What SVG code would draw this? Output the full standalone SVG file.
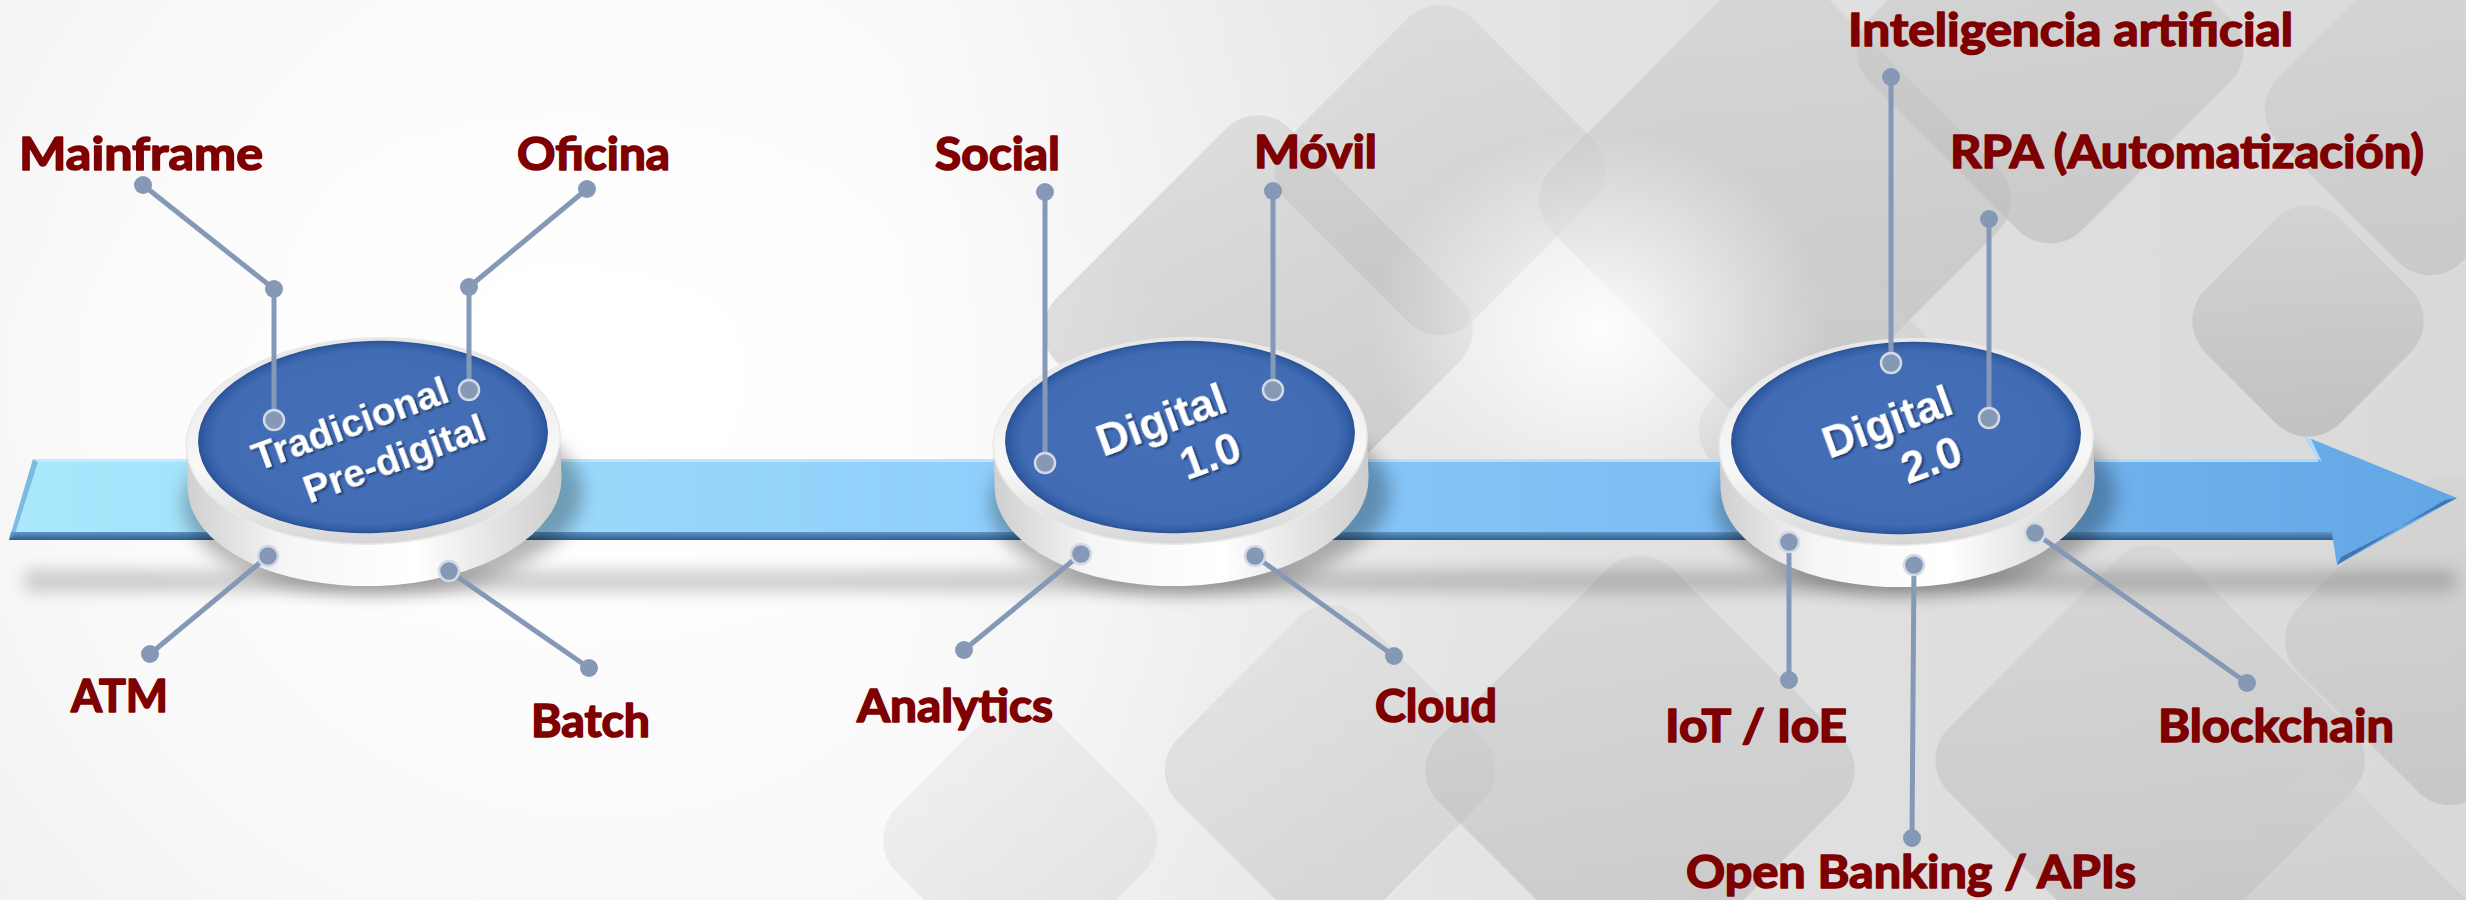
<svg xmlns="http://www.w3.org/2000/svg" width="2466" height="900" viewBox="0 0 2466 900">
<style>
.lbl{font-family:Lato,"Liberation Sans",sans-serif;font-weight:700;font-size:46px;fill:#7e0000;stroke:#7e0000;stroke-width:1.6px;stroke-linejoin:round}
.dt{font-family:"Liberation Sans",Arial,sans-serif;font-weight:700;fill:#ffffff;text-anchor:middle}
.cn{stroke:#8599b6;stroke-width:5;fill:none;stroke-linecap:round}
.dot{fill:#8599b6}
.ring{fill:#8599b6;stroke:#d3dae6;stroke-width:2.5}
.dm{rx:45px}
</style>
<defs>
<radialGradient id="bgGlow" cx="600" cy="380" r="900" gradientUnits="userSpaceOnUse">
<stop offset="0" stop-color="#ffffff"/><stop offset="0.6" stop-color="#f9f9f9"/><stop offset="1" stop-color="#eeeeee"/>
</radialGradient>
<linearGradient id="rightGray" x1="900" y1="0" x2="2466" y2="0" gradientUnits="userSpaceOnUse">
<stop offset="0" stop-color="#c8c8c8" stop-opacity="0"/><stop offset="0.5" stop-color="#c8c8c8" stop-opacity="0.35"/><stop offset="1" stop-color="#c0c0c0" stop-opacity="0.45"/>
</linearGradient>
<radialGradient id="wGlow"><stop offset="0" stop-color="#ffffff" stop-opacity="0.95"/><stop offset="1" stop-color="#ffffff" stop-opacity="0"/></radialGradient>
<linearGradient id="dmG" x1="0" y1="0" x2="1" y2="1">
<stop offset="0" stop-color="#d2d2d2"/><stop offset="1" stop-color="#b4b4b4"/>
</linearGradient>
<linearGradient id="arrowG" x1="0" y1="0" x2="2466" y2="0" gradientUnits="userSpaceOnUse">
<stop offset="0" stop-color="#aae8fc"/><stop offset="0.45" stop-color="#8ccbfa"/><stop offset="0.75" stop-color="#7ab9f2"/><stop offset="1" stop-color="#62a6e4"/>
</linearGradient>
<linearGradient id="bevelG" x1="0" y1="0" x2="0" y2="1">
<stop offset="0" stop-color="#5f95c6"/><stop offset="1" stop-color="#2f5f90"/>
</linearGradient>
<radialGradient id="faceG" cx="0.5" cy="0.5" r="0.5">
<stop offset="0" stop-color="#4570b8"/><stop offset="0.9" stop-color="#416bb3"/><stop offset="0.96" stop-color="#3560a8"/><stop offset="1" stop-color="#2a5195"/>
</radialGradient>
<linearGradient id="rimG" x1="0" y1="0" x2="0" y2="1">
<stop offset="0" stop-color="#e6e6e6"/><stop offset="0.6" stop-color="#f8f8f8"/><stop offset="1" stop-color="#d6d6d6"/>
</linearGradient>
<linearGradient id="sideG" x1="0" y1="0" x2="1" y2="0">
<stop offset="0" stop-color="#d0d0d0"/><stop offset="0.25" stop-color="#f6f6f6"/><stop offset="0.6" stop-color="#ffffff"/><stop offset="1" stop-color="#cdcdcd"/>
</linearGradient>
<filter id="blur" x="-20%" y="-50%" width="140%" height="200%"><feGaussianBlur stdDeviation="9"/></filter>
<filter id="blurS" x="-10%" y="-200%" width="120%" height="500%"><feGaussianBlur stdDeviation="8"/></filter>
<filter id="tsh" x="-20%" y="-40%" width="140%" height="180%"><feDropShadow dx="1.5" dy="2" stdDeviation="1.2" flood-color="#10204a" flood-opacity="0.75"/></filter>
</defs>

<g id="background">
<rect width="2466" height="900" fill="url(#bgGlow)"/>
<rect width="2466" height="900" fill="url(#rightGray)"/>
<g fill="url(#dmG)">
<rect class="dm" x="-165" y="-165" width="330" height="330" transform="translate(1258,330) rotate(45)" opacity="0.6"/>
<rect class="dm" x="-130" y="-130" width="260" height="260" transform="translate(1440,170) rotate(45)" opacity="0.45"/>
<rect class="dm" x="-180" y="-180" width="360" height="360" transform="translate(1775,200) rotate(45)" opacity="0.6"/>
<rect class="dm" x="-150" y="-150" width="300" height="300" transform="translate(2050,50) rotate(45)" opacity="0.5"/>
<rect class="dm" x="-95" y="-95" width="190" height="190" transform="translate(2308,321) rotate(45)" opacity="0.7"/>
<rect class="dm" x="-130" y="-130" width="260" height="260" transform="translate(2430,110) rotate(45)" opacity="0.45"/>
<rect class="dm" x="-120" y="-120" width="240" height="240" transform="translate(1850,430) rotate(45)" opacity="0.5"/>
<rect class="dm" x="-165" y="-165" width="330" height="330" transform="translate(1640,770) rotate(45)" opacity="0.55"/>
<rect class="dm" x="-165" y="-165" width="330" height="330" transform="translate(2150,760) rotate(45)" opacity="0.55"/>
<rect class="dm" x="-130" y="-130" width="260" height="260" transform="translate(2450,640) rotate(45)" opacity="0.5"/>
<rect class="dm" x="-130" y="-130" width="260" height="260" transform="translate(1330,770) rotate(45)" opacity="0.35"/>
<rect class="dm" x="-110" y="-110" width="220" height="220" transform="translate(1020,840) rotate(45)" opacity="0.22"/>
<rect class="dm" x="-125" y="-125" width="250" height="250" transform="translate(2320,930) rotate(45)" opacity="0.5"/>
</g>
<ellipse cx="1600" cy="330" rx="230" ry="200" fill="url(#wGlow)"/>
<ellipse cx="560" cy="380" rx="620" ry="340" fill="url(#wGlow)" opacity="0.8"/>
</g>

<g id="timeline-arrow">
<rect x="25" y="570" width="2430" height="22" fill="#000" opacity="0.18" filter="url(#blurS)"/>
<polygon points="33,459 2318,459 2304,436 2457,498 2337,565 2333,540 9,540" fill="url(#arrowG)"/>
<polygon points="11,532 2332,532 2333,540 9,540" fill="url(#bevelG)"/>
<polygon points="33,459 2318,459 2318,462 32,462" fill="#c8f0ff" opacity="0.7"/>
<polygon points="2337,565 2445,500 2457,498 2341,557" fill="#2f62a0" opacity="0.7"/>
<polygon points="2304,436 2310,437 2322,462 2318,459" fill="#c6e6ff" opacity="0.8"/>
<polygon points="9,540 33,459 38,462 15,534" fill="#5f9ccf" opacity="0.6"/>
</g>

<g id="disk-tradicional">
<g transform="translate(373,437) rotate(-2)">
<ellipse cx="8" cy="62" rx="200" ry="95" fill="#000" opacity="0.28" filter="url(#blur)"/>
<ellipse cx="0" cy="46" rx="187" ry="103" fill="url(#sideG)"/>
<rect x="-187" y="4" width="374" height="42" fill="url(#sideG)"/>
<ellipse cx="0" cy="4" rx="187" ry="103" fill="url(#rimG)" stroke="#e9e9e9" stroke-width="1.5"/>
<ellipse cx="0" cy="0" rx="175" ry="96" fill="url(#faceG)"/>
</g>
<text class="dt" font-size="39" filter="url(#tsh)" transform="translate(350,423) rotate(-20)" dy="0.36em">Tradicional</text>
<text class="dt" font-size="39" filter="url(#tsh)" transform="translate(394,458) rotate(-20)" dy="0.36em">Pre-digital</text>
</g>

<g id="disk-digital-1">
<g transform="translate(1180,437) rotate(-2)">
<ellipse cx="8" cy="62" rx="200" ry="95" fill="#000" opacity="0.28" filter="url(#blur)"/>
<ellipse cx="0" cy="46" rx="187" ry="103" fill="url(#sideG)"/>
<rect x="-187" y="4" width="374" height="42" fill="url(#sideG)"/>
<ellipse cx="0" cy="4" rx="187" ry="103" fill="url(#rimG)" stroke="#e9e9e9" stroke-width="1.5"/>
<ellipse cx="0" cy="0" rx="175" ry="96" fill="url(#faceG)"/>
</g>
<text class="dt" font-size="44" filter="url(#tsh)" transform="translate(1161,419) rotate(-20)" dy="0.36em">Digital</text>
<text class="dt" font-size="44" filter="url(#tsh)" transform="translate(1210,455) rotate(-20)" dy="0.36em">1.0</text>
</g>

<g id="disk-digital-2">
<g transform="translate(1906,438) rotate(-2)">
<ellipse cx="8" cy="62" rx="200" ry="95" fill="#000" opacity="0.28" filter="url(#blur)"/>
<ellipse cx="0" cy="46" rx="187" ry="103" fill="url(#sideG)"/>
<rect x="-187" y="4" width="374" height="42" fill="url(#sideG)"/>
<ellipse cx="0" cy="4" rx="187" ry="103" fill="url(#rimG)" stroke="#e9e9e9" stroke-width="1.5"/>
<ellipse cx="0" cy="0" rx="175" ry="96" fill="url(#faceG)"/>
</g>
<text class="dt" font-size="44" filter="url(#tsh)" transform="translate(1887,421) rotate(-20)" dy="0.36em">Digital</text>
<text class="dt" font-size="44" filter="url(#tsh)" transform="translate(1931,459) rotate(-20)" dy="0.36em">2.0</text>
</g>

<g id="connectors">
<polyline class="cn" points="143,185 274,289 274,420"/>
<polyline class="cn" points="587,189 469,287 469,390"/>
<line class="cn" x1="268" y1="556" x2="150" y2="654"/>
<line class="cn" x1="449" y1="571" x2="589" y2="668"/>
<line class="cn" x1="1045" y1="192" x2="1045" y2="463"/>
<line class="cn" x1="1273" y1="191" x2="1273" y2="390"/>
<line class="cn" x1="1081" y1="554" x2="964" y2="650"/>
<line class="cn" x1="1255" y1="556" x2="1394" y2="656"/>
<line class="cn" x1="1891" y1="77" x2="1891" y2="363"/>
<line class="cn" x1="1989" y1="219" x2="1989" y2="418"/>
<line class="cn" x1="1789" y1="542" x2="1789" y2="680"/>
<line class="cn" x1="1914" y1="565" x2="1912" y2="838"/>
<line class="cn" x1="2035" y1="533" x2="2247" y2="683"/>
<g class="dot">
<circle cx="143" cy="185" r="9"/><circle cx="274" cy="289" r="9"/>
<circle cx="587" cy="189" r="9"/><circle cx="469" cy="287" r="9"/>
<circle cx="150" cy="654" r="9"/><circle cx="589" cy="668" r="9"/>
<circle cx="1045" cy="192" r="9"/><circle cx="1273" cy="191" r="9"/>
<circle cx="964" cy="650" r="9"/><circle cx="1394" cy="656" r="9"/>
<circle cx="1891" cy="77" r="9"/><circle cx="1989" cy="219" r="9"/>
<circle cx="1789" cy="680" r="9"/><circle cx="1912" cy="838" r="9"/>
<circle cx="2247" cy="683" r="9"/>
</g>
<g class="ring">
<circle cx="274" cy="420" r="10"/><circle cx="469" cy="390" r="10"/>
<circle cx="268" cy="556" r="10"/><circle cx="449" cy="571" r="10"/>
<circle cx="1045" cy="463" r="10"/><circle cx="1273" cy="390" r="10"/>
<circle cx="1081" cy="554" r="10"/><circle cx="1255" cy="556" r="10"/>
<circle cx="1891" cy="363" r="10"/><circle cx="1989" cy="418" r="10"/>
<circle cx="1789" cy="542" r="10"/><circle cx="1914" cy="565" r="10"/>
<circle cx="2035" cy="533" r="10"/>
</g>
</g>

<g id="labels">
<text id="lbl-mainframe" class="lbl" x="19" y="170" textLength="244" lengthAdjust="spacingAndGlyphs">Mainframe</text>
<text id="lbl-oficina" class="lbl" x="517" y="170" textLength="153" lengthAdjust="spacingAndGlyphs">Oficina</text>
<text id="lbl-atm" class="lbl" x="71" y="712" textLength="97" lengthAdjust="spacingAndGlyphs">ATM</text>
<text id="lbl-batch" class="lbl" x="531" y="737" textLength="119" lengthAdjust="spacingAndGlyphs">Batch</text>
<text id="lbl-social" class="lbl" x="935" y="170" textLength="125" lengthAdjust="spacingAndGlyphs">Social</text>
<text id="lbl-movil" class="lbl" x="1254" y="168" textLength="123" lengthAdjust="spacingAndGlyphs">Móvil</text>
<text id="lbl-analytics" class="lbl" x="857" y="722" textLength="196" lengthAdjust="spacingAndGlyphs">Analytics</text>
<text id="lbl-cloud" class="lbl" x="1375" y="722" textLength="122" lengthAdjust="spacingAndGlyphs">Cloud</text>
<text id="lbl-ia" class="lbl" x="1848" y="46" textLength="445" lengthAdjust="spacingAndGlyphs">Inteligencia artificial</text>
<text id="lbl-rpa" class="lbl" x="1950" y="168" textLength="474" lengthAdjust="spacingAndGlyphs">RPA (Automatización)</text>
<text id="lbl-iot" class="lbl" x="1665" y="742" textLength="182" lengthAdjust="spacingAndGlyphs">IoT / IoE</text>
<text id="lbl-blockchain" class="lbl" x="2158" y="742" textLength="236" lengthAdjust="spacingAndGlyphs">Blockchain</text>
<text id="lbl-openbanking" class="lbl" x="1686" y="888" textLength="450" lengthAdjust="spacingAndGlyphs">Open Banking / APIs</text>
</g>
</svg>
